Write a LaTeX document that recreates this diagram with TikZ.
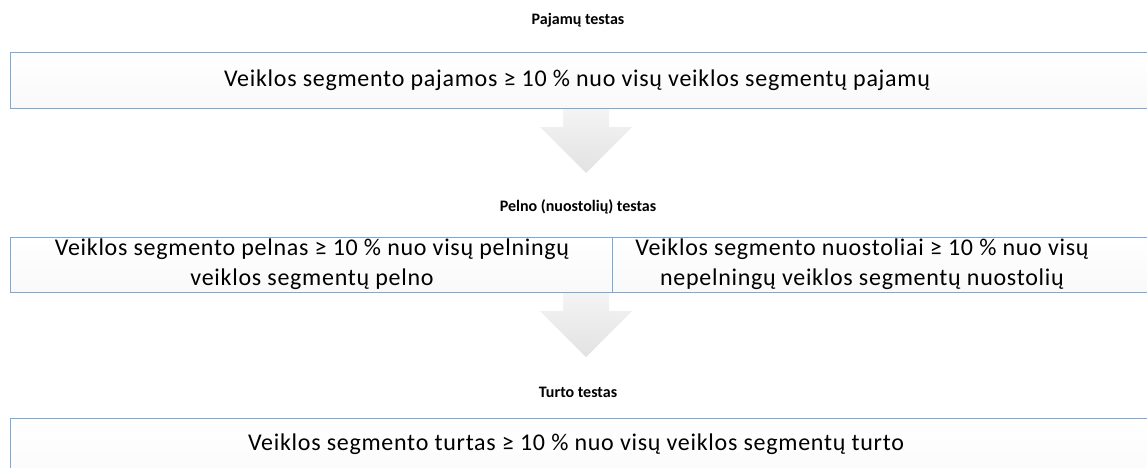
\documentclass[tikz,border=0pt]{standalone}
\usepackage{fontspec}
\setmainfont{Carlito}
\newfontfamily\bodyfont{Carlito}[LetterSpace=3]
\definecolor{boxline}{RGB}{120,170,222}
\definecolor{arrowtop}{RGB}{244,244,244}
\definecolor{arrowbot}{RGB}{226,226,226}
\tikzset{
  box/.style={draw=boxline, line width=1.4pt, top color=white, bottom color={rgb,255:red,249;green,249;blue,249}, anchor=north west, inner sep=0pt},
  title/.style={font=\fontsize{16}{19}\selectfont\bfseries, text=black},
  body/.style={font=\bodyfont\fontsize{24}{30}\selectfont, text=black, align=center},
  downarrow/.style={top color=arrowtop, bottom color=arrowbot, draw=none}
}
\begin{document}
\begin{tikzpicture}[x=1pt,y=-1pt]
\useasboundingbox (0,0) rectangle (1147,467);
% titles
\node[title] (t1) at (578,20) {Pajamų testas};
\node[title] (t2) at (578,207) {Pelno (nuostolių) testas};
\node[title] (t3) at (578,392) {Turto testas};
% boxes
\node[box, minimum width=1180pt, minimum height=56pt] (b1) at (10,52) {};
\node[body] (b1t) at (577,80) {Veiklos segmento pajamos ≥ 10 \% nuo visų veiklos segmentų pajamų};
\node[box, minimum width=602pt, minimum height=55pt] (b2) at (10,237) {};
\node[box, minimum width=600pt, minimum height=55pt] (b3) at (612,237) {};
\node[body] (b2t) at (312,264) {Veiklos segmento pelnas ≥ 10 \% nuo visų pelningų\\veiklos segmentų pelno};
\node[body] (b3t) at (862,264) {Veiklos segmento nuostoliai ≥ 10 \% nuo visų\\nepelningų veiklos segmentų nuostolių};
\node[box, minimum width=1180pt, minimum height=80pt] (b4) at (10,418) {};
\node[body] (b4t) at (576,444) {Veiklos segmento turtas ≥ 10 \% nuo visų veiklos segmentų turto};
% arrows
\path[downarrow] (563,109) -- (609,109) -- (609,127) -- (632,127) -- (586,173) -- (540,127) -- (563,127) -- cycle;
\path[downarrow] (563,293) -- (609,293) -- (609,311) -- (632,311) -- (586,357) -- (540,311) -- (563,311) -- cycle;
\end{tikzpicture}
\end{document}
